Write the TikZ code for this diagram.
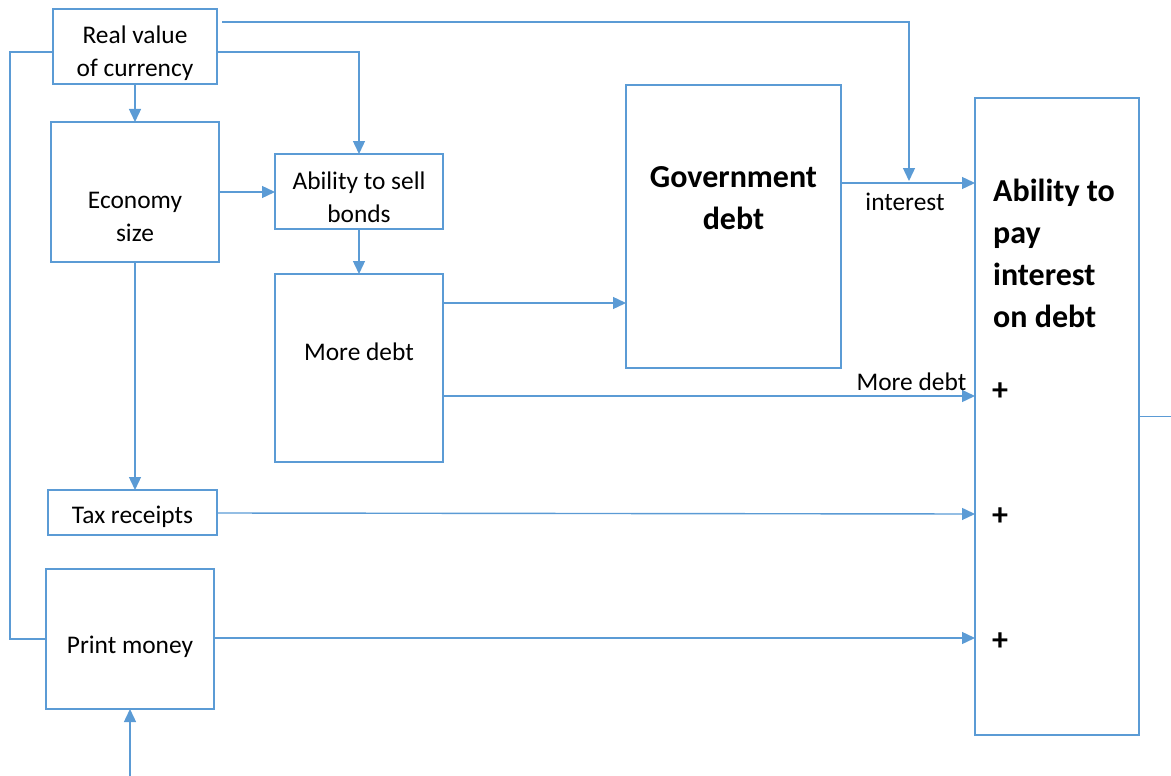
\documentclass[tikz,border=0pt]{standalone}
\usepackage{fontspec}
\setmainfont{Carlito}
\usetikzlibrary{arrows.meta}
\definecolor{ln}{RGB}{91,155,213}
\begin{document}
\begin{tikzpicture}[x=1pt,y=-1pt,
  box/.style={draw=ln,line width=1.4pt,inner sep=0pt,outer sep=0pt,rectangle},
  lbl/.style={font=\fontsize{25.4}{33}\selectfont,align=center,inner sep=0pt},
  hd/.style={font=\fontsize{32}{42}\selectfont\bfseries,inner sep=0pt},
  conn/.style={draw=ln,line width=1.4pt},
  arr/.style={conn,-{Triangle[length=13pt,width=12pt]}}]
\useasboundingbox (0,0) rectangle (1171,776);
% boxes
\node[box,minimum width=164pt,minimum height=75pt] (rv) at (135,46.5) {};
\node[box,minimum width=168pt,minimum height=140pt] (econ) at (135,192) {};
\node[box,minimum width=168pt,minimum height=75pt] (bonds) at (359,191.5) {};
\node[box,minimum width=168pt,minimum height=188pt] (more) at (359,368) {};
\node[box,minimum width=215pt,minimum height=283pt] (gov) at (733.5,226.5) {};
\node[box,minimum width=164pt,minimum height=637pt] (pay) at (1057,416.5) {};
\node[box,minimum width=169pt,minimum height=45pt] (tax) at (132.5,512.5) {};
\node[box,minimum width=168pt,minimum height=140pt] (print) at (130,639) {};
% texts
\node[lbl] (rvt) at (135,53) {Real value\\of currency};
\node[lbl] (econt) at (135,217) {Economy\\size};
\node[lbl] (bondst) at (359,197) {Ability to sell\\bonds};
\node[lbl] (moret) at (359,352) {More debt};
\node[lbl] (taxt) at (132.5,517) {Tax receipts};
\node[lbl] (printt) at (130,647) {Print money};
\node[hd,align=center] (govt) at (733.5,198) {Government\\debt};
\node[hd,align=left,anchor=west] (payt) at (993,253) {Ability to\\pay\\interest\\on debt};
\node[hd] (p1) at (1000,392) {+};
\node[hd] (p2) at (1000,517) {+};
\node[hd] (p3) at (1000,642) {+};
% free ends
\coordinate (intj) at (909,181);
\coordinate (outR) at (1171,416.5);
\coordinate (inB) at (130,776);
% connectors
\draw[arr] (rv.north east) ++(5,13) -| (intj);
\draw[arr] (rv.east |- 0,52) -| (bonds.north);
\draw[conn] (rv.west |- 0,52) -| (10,345) |- (print.west);
\draw[arr] (rv.south) -- (econ.north);
\draw[arr] (econ.east) -- (bonds.west |- econ.east);
\draw[arr] (econ.south) -- (econ.south |- tax.north);
\draw[arr] (bonds.south) -- (more.north);
\draw[arr] (more.east |- 0,303) -- (gov.west |- 0,303);
\draw[arr] (more.east |- 0,396) -- node[lbl,pos=1,anchor=south east,yshift=5pt,xshift=-8pt] (mdl) {More debt} (pay.west |- 0,396);
\draw[arr] (gov.east |- 0,183) -- node[lbl,pos=0.5,anchor=north,yshift=-9pt,xshift=-3pt] (intl) {interest} (pay.west |- 0,183);
\draw[arr] (tax.east |- 0,513) -- (pay.west |- 0,514);
\draw[arr] (print.east |- 0,638) -- (pay.west |- 0,638);
\draw[conn] (pay.east) -- (outR);
\draw[arr] (inB) -- (print.south);
\end{tikzpicture}
\end{document}
